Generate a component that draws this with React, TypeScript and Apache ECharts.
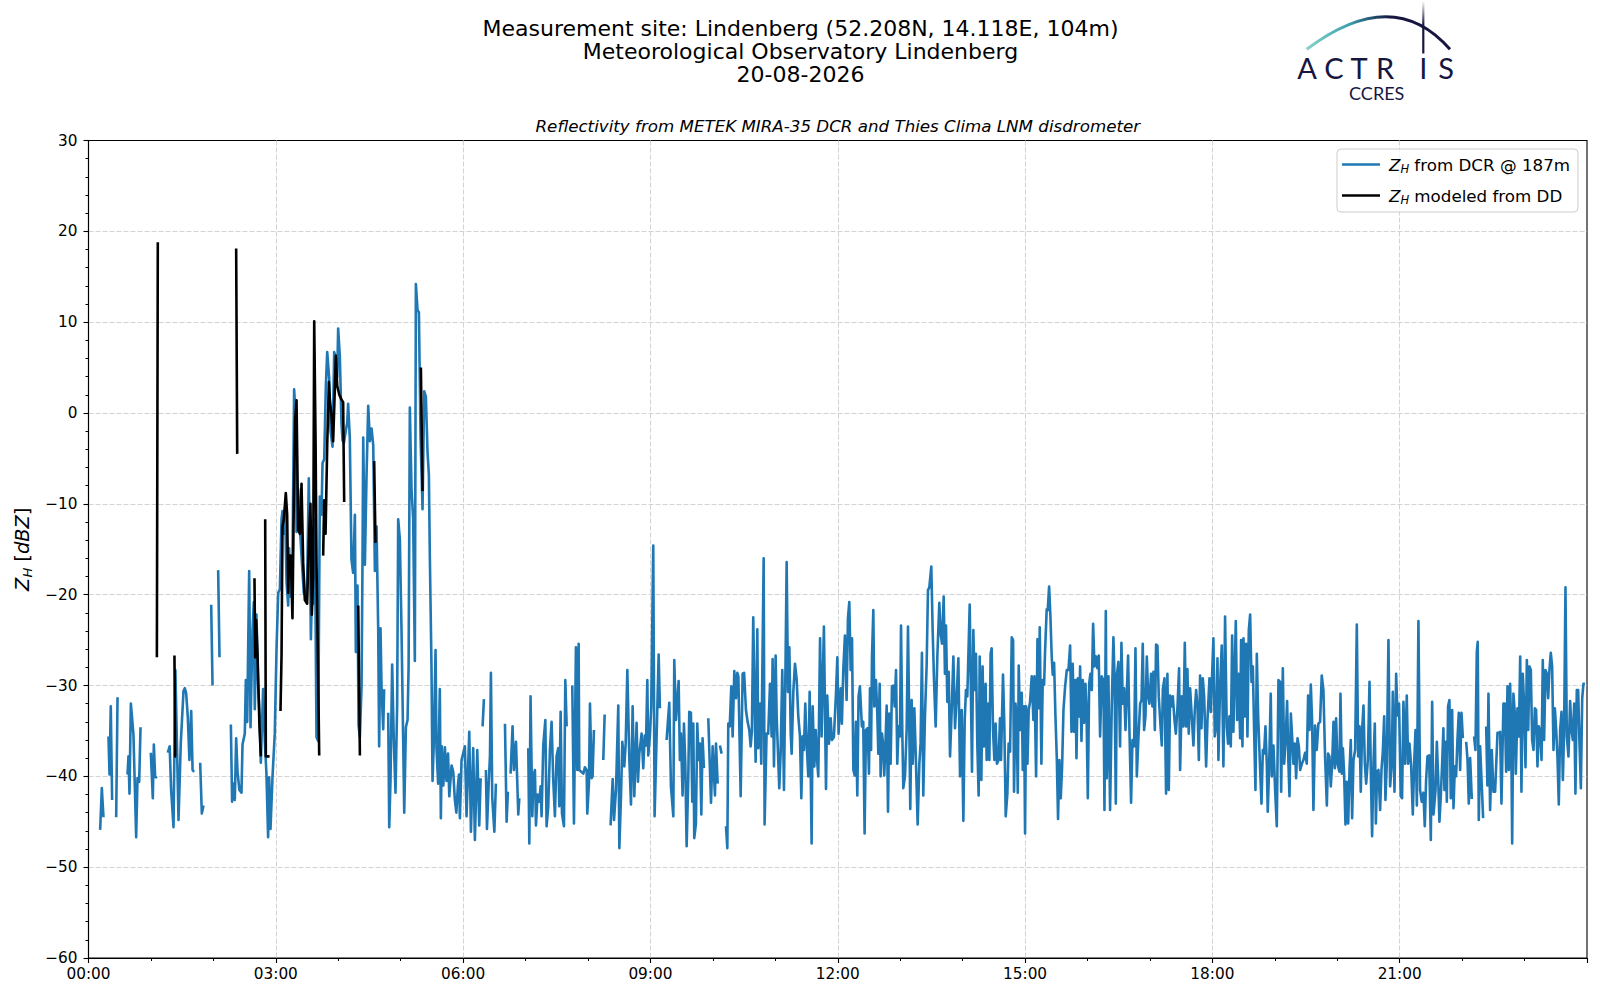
import React, { useEffect, useRef } from "react";
import * as echarts from "echarts";

// ---------- texts ----------
const titleLines = [
  "Measurement site: Lindenberg (52.208N, 14.118E, 104m)",
  "Meteorological Observatory Lindenberg",
  "20-08-2026",
];
const subtitle = "Reflectivity from METEK MIRA-35 DCR and Thies Clima LNM disdrometer";
const seriesNames = ["Z_H from DCR @ 187m", "Z_H modeled from DD"];
const xTickLabels = ["00:00", "03:00", "06:00", "09:00", "12:00", "15:00", "18:00", "21:00"];
const logoLetters = ["A", "C", "T", "R", "I", "S"];

// ---------- data: [minutes since 00:00, dBZ] (null = gap) ----------
type P = [number, number | null];

const dcr0006: P[] = [
  [11.2,-45.9],[12.8,-41.3],[14.4,-44.5],[16,null],
  [19.2,-35.6],[20.2,-39.8],[21.4,-32.3],[22.7,-42.6],[24,null],
  [26.6,-44.5],[27.9,-31.3],[29,null],
  [37.5,-39.8],[38.4,-37.8],[39.4,-41.9],[40.7,-32],[43.2,-35.4],[45.8,-46.7],[47.1,-40.2],[48.7,-40.6],[50,-34.6],[51,null],
  [59.9,-37.4],[60.8,-39.8],[61.8,-42.4],[62.8,-36.5],[64,-40],[65.7,-40.2],[67,null],
  [76.2,-37.4],[78,-36.7],[79.4,-41.5],[81.7,-45.6],[83.5,-28.3],[86.5,-44.8],[88.7,-36.3],[91.3,-30.6],[92.5,-30.3],[93.8,-30.8],[95.4,-33.4],[97,-38.2],[98.7,-32.8],[100,-39.3],[101.5,-39.5],[102.5,null],
  [107.3,-38.5],[108.9,-44.1],[110.5,-43.2],[111.5,null],
  [117.9,-21.1],[119.2,-30],[120,null],
  [124.6,-17.3],[125.9,-26.9],[127,null],
  [136.8,-34.3],[138,-42.8],[139.3,-40.8],[140.6,-42.6],[141.9,-35.8],[143.2,-39.5],[145,-41.5],[147,-41.8],[148,-36.5],[150.2,-35.3],[151.2,-29.4],[152.5,-34],[154.4,-17.4],[155.7,-34.6],[157.6,-23.9],[158.9,-20.8],[159.8,-32.6],[161.4,-22.2],[163,-30],[164.6,-33.6],[165.6,-38.5],[167.8,-30.4],[169.4,-36.1],[171,-39.7],[172.6,-46.7],[173.6,-40.1],[174.9,-45.8],[176.8,-40.1],[179,-35.3],[180.7,-25.9],[182.3,-19.8],[183.9,-19.4],[185.5,-11.7],[186.4,-10.8],[187.4,-13.3],[189,-10.8],[190.3,-18.6],[191.9,-21.2],[192.8,-14.9],[194.1,-20.2],[196,-16.5],[197.6,2.6],[199.2,-0.7],[199.9,-13.1],[201.5,-8.4],[203.1,-12.5],[205.3,-16.9],[206.9,-19.8],[208.9,-20.2],[210.1,-18.6],[211.7,-7.2],[212.7,-14.5],[213.7,-24.9],[214.9,-18.6],[215.9,-21],[217.5,-11.7],[219.1,-35.7],[220.7,-36.1],[222.3,-9.2],[223.9,-11.2],[224.9,-5.5],[226.5,-5.1],[228.1,3],[229.4,6.7],[231.3,3.8],[232.6,-2],[234.5,-3.7],[236.1,6.7],[237.7,6.1],[239,4],[239.9,9.3],[241.5,6.3],[243.1,-1.1],[244.1,-3],[245.4,-3.3],[247.3,-1.9],[248.6,-1.1],[249.5,1],[251.1,-2.7],[252.7,-16.1],[254.3,-17.6],[256,-11.2],[256.9,-26.3],[258.5,-19],[259.5,-34.4],[260.8,-35.7],[262.4,-30],[263.3,-16.5],[264,-2.7],[265.6,-16.7],[267.2,-6.8],[268.8,0.8],[270.4,-3.1],[272,-1.7],[273.6,-3.5],[275.2,-17.4],[276.8,-12.5],[278.4,-23.9],[279.3,-36.7],[280.6,-23.7],[281.6,-30.2],[283.2,-34.8],[284.1,-30.4],[285.5,null],
  [288,-33],[289,-45.6],[290.2,-40.5],[291.8,-27.7],[293.4,-36.1],[295,-41.8],[296.6,-32.2],[297.6,-11.7],[299.2,-13.9],[300.8,-23.9],[302.4,-36.1],[303.4,-44],[305,-34.6],[306.6,-33.8],[307.6,-28],[308.8,0.6],[310.4,-8.4],[312,-11.7],[313.6,-27.3],[314.6,14.2],[316.2,11.3],[317.5,11.1],[319.1,-2.7],[321,-10.6],[322.6,2.4],[324.2,1.8],[325.8,-4.3],[327.1,-6.8],[328,-15.7],[329.6,-27.9],[330.6,-40.5],[331.9,-36],[333.5,-26.1],[334.4,-36.9],[336,-40.8],[337.6,-30.4],[338.6,-44.6],[339.5,-36.7],[341,-41],[342.5,-36.8],[344,-40.5],[345.5,-37.5],[346.7,-42.2],[348.9,-38.8],[350.5,-39.5],[352,-42.5],[353.5,-44],[355,-41],[356,-39.8],[356.9,-44.6],[358.5,-38.2],
];

const dcr0612: P[] = [
  [361.7,-36.7],[363.3,-44.4],[365.9,-35.1],[367.5,-46.1],[369.7,-36.9],[371.3,-47],[373.6,-37.1],[375.5,-45.4],[376.8,-40.2],[377.5,null],
  [378.7,-34.5],[380,-31.5],[380.8,null],
  [381.9,-39.3],[382.9,-45.8],[384.5,-41],[385.8,-37.7],[386.7,-28.6],[388,-42.4],[390,-46.1],[391.5,-40.8],[392.5,null],
  [400.2,-34.2],[401.8,-45],[403,-41.7],[404,null],
  [405.6,-39.7],[407.5,-34.5],[408.8,-39.3],[410.8,-36.2],[413,-44.2],[414,-42.4],[415,null],
  [422.6,-36.9],[423.6,-47.4],[424.8,-31.2],[426.5,-44.4],[427.5,-40],[429,-39.3],[430,-45.4],[431.6,-42],[433.2,-42.8],[434.5,-41.1],[435.4,-44.4],[437,-36.6],[439,-33.8],[440.2,-45.5],[441.8,-43.3],[443.4,-37.1],[445,-34],[446.6,-40.4],[448.2,-44.4],[449.8,-37.8],[451.4,-36.9],[452.4,-43.3],[453.7,-32.9],[455,-44.1],[456.9,-45.5],[458.2,-29.4],[459.5,-34.5],[460.5,null],
  [464.9,-30],[466.5,-45.2],[468.4,-25.8],[469.7,-39.3],[471,-25.4],[471.6,-39.3],[475.5,-39.7],[477,-39],[478.7,-39.3],[479.3,-44.1],[480.9,-40.8],[481.9,-32],[483.5,-40.2],[484.4,-40],[485.7,-34.9],[486.5,null],
  [494.7,-38.2],[496,-33.2],[497,null],
  [501.7,-45.4],[503.7,-40.3],[505,-44.8],[506.9,-41.5],[509.1,-32.2],[510.1,-47.9],[511.7,-42.2],[513,-36.2],[514.9,-38.9],[516.2,-36.4],[517.8,-28.3],[519.7,-38],[521.3,-43.1],[522.9,-32.3],[524.5,-42.2],[526.7,-34.1],[528,-40.6],[529.3,-37.5],[531.5,-35.3],[533.1,-39.1],[534.5,-35.5],[535.7,-36.6],[537,-29.4],[537.9,-37.7],[539.5,-35.5],[540.8,-32.3],[542.7,-14.6],[544,-44.4],[545.3,-38.6],[546.5,-33],[547.9,-26.6],[549.1,-32.5],[550,null],
  [555.5,-36],[558.1,-31.9],[559.7,-41.1],[562,-44.4],[562.9,-27.2],[564.5,-33.8],[567.1,-29.5],[568.3,-38.2],[569.3,-35.3],[570.9,-42.1],[572.2,-34.2],[573.5,-38.6],[574.8,-47.7],[576.4,-40],[577.3,-32.9],[578.9,-33],[580.2,-42.8],[581.2,-34.2],[582.1,-46.8],[583.7,-45.2],[585,-34.2],[586.3,-38.2],[587.6,-36.4],[588.9,-44.2],[590.1,-35.8],[591.4,-39.1],[592.5,null],
  [595.6,-33.6],[598.2,-42.9],[599.8,-36.7],[602,-42.1],[603,-36.4],[604.6,-40.8],[605.5,null],
  [606.8,-36.6],[608.4,-37.5],[609.5,null],
  [612.6,-45.5],[613.9,-47.9],[614.8,-34.2],[616.2,-34.5],[617.7,-30.1],[619,-35.6],[620.6,-28.4],[622.2,-31.4],[623.5,-28.6],[624.5,-29],[626.7,-42.2],[628.6,-28.7],[630,-28.6],[631.8,-32.7],[633.4,-34],[635,-34.9],[636.3,-36.7],[637.5,-35],[638.8,-22.5],[640.1,-32],[641.1,-38.4],[642.7,-23.8],[643.6,-36.9],[645.3,-32],[646.5,-38.6],[648.8,-16],[649.7,-45.3],[651.6,-35.3],[653.2,-35.3],[654.9,-29.8],[656.5,-35.6],[657.4,-27.1],[658.7,-38.9],[660.3,-26.7],[661.3,-33.4],[663.8,-41.3],[665.1,-37.5],[666.7,-28.3],[668.3,-41.5],[669.9,-26.8],[670.9,-16.4],[672.2,-30.7],[673.5,-25.8],[674.8,-35.3],[675.7,-37.5],[677.3,-30.7],[678.9,-27.6],[680.5,-29.3],[682.1,-33.4],[683.7,-35.6],[685,-42.4],[686.3,-35.6],[687.5,-37.1],[688.8,-32],[690.1,-36.4],[691.7,-40],[693,-30.7],[694.9,-47.4],[695.9,-32.3],[697.5,-38.9],[698.8,-34.9],[700.4,-38.6],[701.3,-40],[703,-24.8],[704.5,-35.6],[706.7,-23.5],[708.7,-41.4],[709.9,-31.1],[711.5,-36.4],[713.2,-33.6],[714.4,-36],[716.3,-35.7],[718.3,-30.9],[719.6,-26.9],
];

const dcr1218: P[] = [
  [720.8,-35.3],[722.8,-30.3],[724,-34.2],[725.3,-28.3],[726.9,-24.5],[728.5,-31.6],[729.8,-22.6],[731.1,-20.8],[732.4,-28.3],[733.7,-24.8],[735,-39.3],[736.3,-39.9],[737.5,-34],[738.8,-42.1],[740,-31.2],[741.3,-30.1],[743.2,-34.5],[744.5,-34],[745.8,-46.3],[747.1,-34.9],[748.7,-34.7],[750,-39.7],[751,-30.3],[752,-37.1],[752.9,-26.8],[754.2,-21.7],[755.1,-32.3],[756.7,-29.4],[758,-33.1],[759,-37.5],[760.3,-29.8],[761.2,-40],[762.5,-35.3],[763.8,-36.7],[764.7,-39.9],[766,-35.8],[767,-32.2],[768.3,-43.9],[769.5,-33.1],[770.8,-38.6],[772.1,-30.1],[773.4,-30],[774.7,-32.3],[776,-28.3],[777.2,-38.6],[778.5,-34.5],[779.8,-35.6],[780.8,-23.4],[782,-34.9],[783,-41.3],[784.6,-40],[786.2,-34.9],[787.5,-23.5],[788.8,-34.9],[789.7,-43.6],[791,-31.6],[792,-38.6],[793.6,-32.5],[795.2,-38.6],[796.8,-45.3],[798.4,-38.6],[799.6,-36.4],[800.9,-26.4],[802.2,-42.1],[803.8,-33.4],[805.4,-27.9],[806.7,-19.5],[808,-19.2],[809.9,-16.9],[811.2,-23.9],[812.5,-29.4],[814.1,-34.5],[815.7,-26.8],[817.6,-20.9],[818.9,-24.3],[820.2,-25.4],[821.8,-20.2],[823,-28.7],[824,-23.4],[825.3,-31.8],[826.6,-28.5],[827.9,-37.8],[829.5,-32.7],[831.1,-26.8],[832.7,-34.7],[834.3,-31.2],[835.9,-27],[837.5,-40],[839.1,-32.7],[840.7,-44.9],[842,-33.8],[843.2,-30.5],[844.5,-31.2],[846.8,-21.1],[848,-31.2],[849,-39.5],[850.3,-23.9],[851.6,-30.5],[852.8,-26.5],[854.1,-36.4],[855.4,-42.1],[856.4,-26.8],[858,-40.4],[859.2,-27.9],[860.5,-36.7],[862.1,-29.8],[863.1,-38.2],[864.4,-32],[865.7,-38.2],[866.9,-26.5],[867.9,-25.9],[869.2,-34.9],[870.5,-38.2],[871.7,-34.2],[873,-38.6],[874.6,-38.2],[875.9,-33.6],[876.9,-38.2],[878.8,-28.8],[880.1,-34.5],[881.4,-44.4],[883,-41.9],[884.2,-36.4],[885.6,-37.3],[887.2,-24.7],[888.5,-25],[889.4,-41.7],[890.8,-32],[892,-34.2],[893,-41.8],[893.9,-27.8],[895.2,-34.9],[896.8,-30.8],[897.8,-39.3],[899,-32.3],[900,-46.3],[901,-32.3],[902.3,-38.6],[903.5,-32.7],[904.8,-31.8],[906.4,-29],[908,-33.8],[909,-29],[910.6,-40],[911.9,-24.9],[913.2,-32.5],[914.1,-23.6],[915.7,-38.6],[917,-29.4],[918.3,-29.9],[919.2,-26.3],[920.8,-21.6],[921.8,-21.7],[923.1,-19.1],[924.4,-22.5],[925.6,-26.8],[926.6,-28.8],[927.9,-27.5],[929.2,-33.4],[930.5,-38],[931.7,-44.7],[933,-38.2],[934.3,-42.4],[935.6,-38.9],[936.9,-32.7],[938.5,-30.1],[940.1,-28.3],[941.7,-28.3],[943.3,-25.6],[944.6,-35.1],[945.8,-27.6],[947.1,-35.1],[948.4,-29.4],[949.4,-38],[950.7,-29.2],[952,-33.4],[952.9,-27.9],[954.2,-36.1],[955.5,-29.4],[956.7,-34.1],[958,-29.8],[959,-32.3],[960.3,-42.4],[961.6,-29.8],[962.8,-28.7],[964.1,-30.5],[965.4,-23.2],[966.7,-27.9],[968.2,-26.8],[969.5,-28.1],[970.8,-26.7],[972.1,-35.6],[973.7,-29],[975.3,-29.4],[976.3,-43.7],[977.6,-21.8],[978.5,-40.2],[980.1,-29],[981.7,-43.7],[983.3,-32.3],[984.9,-24.7],[985.9,-28.7],[987.2,-43],[988.2,-28.9],[989.7,-27.4],[991.3,-36.7],[992.6,-25.3],[993.9,-32],[995.2,-30.3],[996.5,-34.9],[997.7,-31.2],[999,-26.7],[1000.3,-34.9],[1001.9,-42.9],[1003.2,-36],[1004.8,-36.7],[1006.1,-25.9],[1007.4,-40],[1009,-35.6],[1010.6,-32],[1011.9,-31.6],[1013.1,-25.4],[1014.4,-34.9],[1015.7,-33.4],[1017,-26.8],[1018.3,-31.2],[1019.5,-32],[1021.1,-28.7],[1022.4,-32.3],[1023.4,-28.5],[1024.7,-34.9],[1025.9,-25.5],[1027.2,-25.6],[1028.5,-31.2],[1029.8,-33.8],[1031.4,-36.6],[1032.4,-30.4],[1034,-29.2],[1035.5,-41.9],[1036.8,-28.7],[1038.1,-41.5],[1039.4,-31.1],[1040.7,-32.3],[1042,-31.2],[1043.6,-33.8],[1044.9,-35.3],[1046.5,-32.3],[1048,-28.1],[1049,-39.3],[1050.6,-31.2],[1052.2,-34.5],[1053.5,-25.3],[1054.8,-34.5],[1056,-28.2],[1057.3,-35.3],[1058.6,-30.3],[1060.2,-33.4],[1061.8,-36.6],[1063.1,-32.7],[1064.4,-30.5],[1065.7,-32.3],[1067,-38.2],[1068.2,-28.9],[1069.5,-34.7],[1070.8,-29.2],[1072.1,-31.2],[1074,-38.9],
];

const dcr1824: P[] = [
  [1075.3,-33.8],[1077.2,-29.2],[1078.5,-32.9],[1079.7,-29],[1081,-24.8],[1082.3,-35.6],[1083.6,-34.5],[1084.9,-27],[1085.8,-38.2],[1087.4,-30.1],[1089,-25.6],[1090.6,-38.9],[1092.2,-22.4],[1093.8,-34.5],[1095.1,-36.4],[1096.4,-33.4],[1097.7,-36.7],[1099,-24.5],[1100.2,-35.1],[1101.5,-28.3],[1102.5,-22.9],[1103.8,-33.8],[1105.1,-28.7],[1106.7,-35.8],[1107.6,-25],[1108.9,-36.7],[1109.9,-24.8],[1111.2,-33.4],[1112.4,-25.4],[1113.7,-35.6],[1115,-23.9],[1116.3,-22.2],[1117.6,-29.6],[1118.9,-27.9],[1120.1,-34.9],[1121.4,-41.5],[1122.7,-26.5],[1124,-33.4],[1125.9,-39.3],[1127.2,-43],[1128.5,-37.1],[1129.7,-37.5],[1131,-34.5],[1132.3,-38.6],[1133.2,-43.9],[1134.5,-39.1],[1136.1,-30.9],[1137.1,-40],[1138.7,-36.6],[1140.3,-41.5],[1141.9,-45.5],[1143.5,-29.4],[1145.1,-29.6],[1146.1,-41.7],[1147.7,-28.1],[1149,-38.6],[1150.5,-35.8],[1151.8,-31.7],[1153.1,-38.6],[1154.1,-42.2],[1155.4,-33.1],[1156.6,-35.6],[1157.9,-38.6],[1159.2,-36.4],[1160.5,-40.2],[1161.8,-35.8],[1163.1,-36.7],[1164.4,-39.3],[1166,-38.6],[1167.5,-38.2],[1169.1,-37.4],[1170.7,-38.6],[1172,-31.1],[1173.3,-34.9],[1174.6,-29.9],[1175.9,-34.2],[1177.1,-43.7],[1178.7,-34.4],[1180.3,-37.1],[1181.9,-34.2],[1183.5,-34],[1185.1,-28.9],[1186.7,-30.5],[1188.3,-37.8],[1190,-43.2],[1191.2,-37.5],[1192.5,-37.8],[1193.8,-41.1],[1195.1,-38.6],[1196.4,-34],[1197.7,-39.1],[1198.9,-33.6],[1200.2,-38.6],[1202.1,-39.5],[1203.1,-30.9],[1204.4,-39.7],[1205.4,-36.9],[1206.6,-39.7],[1207.9,-45.3],[1209.2,-40.6],[1210.5,-45.2],[1211.8,-39.3],[1213,-36],[1214.3,-44.6],[1215.6,-38.2],[1217.2,-37.1],[1218.8,-23.3],[1220.1,-37.8],[1221.4,-34.5],[1222.6,-41.7],[1223.9,-34.9],[1225.2,-32.2],[1226.5,-38.6],[1227.8,-40.8],[1229.4,-38.2],[1231,-29.6],[1232.2,-39.1],[1233.5,-46.6],[1234.8,-38.6],[1236.1,-34.2],[1237.1,-45.2],[1238.3,-39.5],[1239.6,-39.3],[1241.2,-43.7],[1242.5,-39.3],[1243.8,-37.3],[1245.1,-33.4],[1246.3,-42.6],[1247.6,-38.6],[1249.2,-25],[1250.8,-41.1],[1252.4,-38.6],[1253.4,-30.7],[1255,-41.7],[1256.6,-28.7],[1257.9,-33.3],[1259.4,-32],[1261,-42.2],[1262.3,-42.4],[1263.6,-31.8],[1265.2,-38.6],[1266.8,-31.1],[1268.1,-38.6],[1269.4,-36.4],[1271,-38.8],[1272.6,-44.2],[1273.9,-38.6],[1275.2,-34.9],[1276.5,-43.2],[1278,-22.9],[1279.6,-41.5],[1281.2,-42.8],[1282.8,-41.8],[1284.1,-45.5],[1285.4,-40.4],[1286.7,-37.8],[1288.3,-37.7],[1289.9,-47],[1291.2,-31.8],[1292.5,-44.2],[1294.4,-41.6],[1295.7,-36.2],[1297,-40.2],[1298.2,-45],[1299.5,-42.2],[1300.8,-38.6],[1302,-34.7],[1303,-41.5],[1304.3,-36.2],[1305.3,-42.8],[1306.5,-32.3],[1307.8,-31.6],[1309.1,-42.4],[1310.4,-32.7],[1311.7,-43.5],[1313,-38.9],[1314.2,-40],[1315.5,-36],[1316.8,-33],[1318.1,-39.3],[1319.4,-33],[1320.7,-35.8],[1321.7,null],
  [1323.9,-36.2],[1325.2,-38.2],[1326.4,-43],[1327.7,-38],[1329.3,-42.5],[1330.2,null],
  [1331.5,-35.6],[1332.8,-37.1],[1334.1,-26.3],[1335,-25.2],[1336,-44.8],[1337.3,-36.7],[1338.9,-41.1],[1340.2,-44.6],[1341,null],
  [1343.1,-34.5],[1344.3,-41],[1345.3,-30.9],[1346.9,-43.7],[1348.5,-37.1],[1350.1,-41.7],[1351.7,-41.7],[1354,-35.2],[1355.2,-35.2],[1356.5,-35.1],[1357.8,-43],[1359.7,-32],[1361,-32],[1362.3,-39.5],[1363.6,-30.1],[1364.9,-39.3],[1366.1,-29.8],[1367.1,-34.5],[1368.1,-47.4],[1369.3,-30.9],[1370.6,-33],[1371.6,-39.7],[1373.2,-32.5],[1374.5,-35.6],[1375.8,-26.8],[1377,-41.7],[1378.3,-28.7],[1379.6,-32.3],[1380.9,-39],[1382.2,-27.2],[1383.5,-34.9],[1384.7,-27.9],[1386,-28.3],[1387.3,-36],[1388.6,-37.1],[1389.9,-32.5],[1391.1,-32.7],[1392.4,-38.9],[1393.7,-34.5],[1395,-35.1],[1396.3,-38.2],[1397.5,-27.2],[1398.8,-36],[1400.1,-28.3],[1401.4,-28.7],[1402.7,-31.4],[1403.9,-28.3],[1405.2,-26.4],[1406.5,-27.9],[1407.8,-37.1],[1409.1,-32.5],[1410.4,-34.9],[1411.6,-37.8],[1412.9,-43.1],[1414.2,-34.9],[1415.5,-32.9],[1416.8,-40.4],[1418,-34.9],[1419.3,-19.2],[1420.6,-35.6],[1422.2,-37.8],[1423.8,-31.7],[1425.1,-34.9],[1426.4,-36],[1427.7,-32],[1428.9,-41.9],[1430.2,-30.5],[1431.5,-30.5],[1432.8,-36.4],[1434.1,-41.3],[1435.4,-31.4],[1436.6,-29.8],[1438,-29.8],
];

const ddModel: P[] = [
  [65.7,-26.9],[66.6,18.8],[67.5,null],
  [82.6,-26.7],[83.3,-37.8],[84.2,-37.8],[85,null],
  [141.9,18.1],[142.9,-4.5],[143.5,null],
  [159.5,-18.2],[160.2,-26.9],[161.1,-22.8],[162.4,-26.5],[164.3,-34.5],[165.6,-37.8],[166.5,null],
  [169.8,-11.7],[170.4,-37.8],[174,-37.8],[174.5,null],
  [184.5,-32.8],[185.5,-26.7],[186.4,-12.5],[187.7,-11.7],[189.6,-8.8],[190.9,-11.2],[191.9,-19.8],[192.8,-15.7],[194.4,-15.7],[196,-22.6],[197.3,-9.6],[198.6,-0.7],[199.9,1.4],[201.5,-12.9],[203.1,-13.3],[204.7,-7.8],[206.3,-16.5],[207.9,-20.6],[210.1,-21],[212.1,-12.9],[213.3,-10],[214.6,-22.2],[215.9,-18],[216.9,10.1],[218.2,-3],[219.1,-16.5],[220.7,-28.7],[221.7,-37.7],[222.5,null],
  [225.5,-15.7],[226.5,-9.6],[227.8,-13.3],[229.4,-3.5],[231,3.4],[232,1.4],[233.5,-0.3],[235.1,-3.1],[236.7,2.6],[237.7,6.3],[239,3],[241,2],[243,1.5],[244.7,1.2],[245.7,-9.8],[246.5,null],
  [259.2,-21.2],[260.8,-37.7],[261.5,null],
  [274.5,-5.3],[275.8,-14.3],[276.5,null],
  [319.4,5],[321,-8.6],
];

const FONT = "DejaVu Sans";
const NAVY = "#16163f";

function toSeriesData(arr: P[]) {
  return arr.map(([t, v]) => [t, v === null ? "-" : v]);
}

const fmtY = (v: number) => (v < 0 ? "\u2212" + Math.abs(v) : String(v));

export default function App() {
  const ref = useRef<HTMLDivElement>(null);
  useEffect(() => {
    if (!ref.current) return;
    const chart = echarts.init(ref.current, undefined, { renderer: "svg" });

    const LF = 16.7;
    const legendRich = {
      z: { fontStyle: "italic", fontSize: LF, lineHeight: 21, fontFamily: FONT, color: "#000" },
      s: { fontStyle: "italic", fontSize: 11.5, lineHeight: 12, verticalAlign: "bottom", fontFamily: FONT, color: "#000" },
      t: { fontSize: LF, lineHeight: 21, fontFamily: FONT, color: "#000" },
    };
    const YF = 19.4;

    const arcGrad = new echarts.graphic.LinearGradient(0, 0, 1, 0, [
      { offset: 0, color: "#86d3c9" },
      { offset: 0.3, color: "#3d9fae" },
      { offset: 0.58, color: NAVY },
      { offset: 1, color: NAVY },
    ]);
    const vGrad = new echarts.graphic.LinearGradient(0, 0, 0, 1, [
      { offset: 0, color: "rgba(22,22,63,0)" },
      { offset: 0.45, color: NAVY },
      { offset: 1, color: NAVY },
    ]);
    const letterX = [1307, 1334, 1359, 1385, 1423.3, 1446];

    const option: any = {
      animation: false,
      backgroundColor: "#ffffff",
      textStyle: { fontFamily: FONT },
      grid: {
        left: 88.5, top: 140.5, width: 1498.5, height: 817.5,
        show: true, borderColor: "#000", borderWidth: 1.1, backgroundColor: "transparent",
      },
      xAxis: {
        type: "value", min: 0, max: 1440, interval: 180,
        axisLine: { show: true, onZero: false, lineStyle: { color: "#000", width: 1.1 } },
        axisTick: { show: true, length: 5, lineStyle: { color: "#000", width: 1.1 } },
        minorTick: { show: true, splitNumber: 3, length: 3, lineStyle: { color: "#000", width: 1 } },
        axisLabel: {
          color: "#000", fontSize: 15.3, fontFamily: FONT, margin: 8,
          formatter: (v: number) => xTickLabels[Math.round(v / 180)] ?? "",
        },
        splitLine: { show: true, showMinLine: false, showMaxLine: false, lineStyle: { color: "#d3d3d3", width: 1, type: [5, 2] } },
      },
      yAxis: {
        type: "value", min: -60, max: 30, interval: 10,
        axisLine: { show: true, onZero: false, lineStyle: { color: "#000", width: 1.1 } },
        axisTick: { show: true, length: 5, lineStyle: { color: "#000", width: 1.1 } },
        minorTick: { show: true, splitNumber: 5, length: 3, lineStyle: { color: "#000", width: 1 } },
        axisLabel: { color: "#000", fontSize: 15.3, fontFamily: FONT, margin: 11, formatter: fmtY },
        splitLine: { show: true, showMinLine: false, showMaxLine: false, lineStyle: { color: "#d3d3d3", width: 1, type: [5, 2] } },
        name: "{z|Z}{s|H}{t| [}{i|dBZ}{t|]}",
        nameLocation: "middle",
        nameRotate: 90,
        nameGap: 53,
        nameTextStyle: {
          color: "#000",
          rich: {
            z: { fontStyle: "italic", fontSize: YF, lineHeight: 24, fontFamily: FONT, color: "#000" },
            s: { fontStyle: "italic", fontSize: 13, lineHeight: 13, verticalAlign: "bottom", fontFamily: FONT, color: "#000" },
            t: { fontSize: YF, lineHeight: 24, fontFamily: FONT, color: "#000" },
            i: { fontStyle: "italic", fontSize: YF, lineHeight: 24, fontFamily: FONT, color: "#000" },
          },
        },
      },
      legend: {
        orient: "vertical", right: 22, top: 149,
        backgroundColor: "rgba(255,255,255,0.8)", borderColor: "#cccccc", borderWidth: 1, borderRadius: 4,
        padding: [5, 8, 6, 5], itemGap: 10, itemWidth: 38, itemHeight: 2.6, icon: "rect",
        selectedMode: false,
        data: seriesNames,
        textStyle: { fontFamily: FONT, fontSize: LF, lineHeight: 21, color: "#000", padding: [0, 0, 0, 4], rich: legendRich },
        formatter: (name: string) => "{z|Z}{s|H}{t|" + name.slice(3) + "}",
      },
      series: [
        {
          name: seriesNames[0], type: "line", data: toSeriesData([...dcr0006, ...dcr0612, ...dcr1218, ...dcr1824]),
          showSymbol: false, symbol: "none", connectNulls: false, color: "#1f77b4",
          itemStyle: { color: "#1f77b4" },
          lineStyle: { color: "#1f77b4", width: 2.6, join: "round" }, z: 2,
        },
        {
          name: seriesNames[1], type: "line", data: toSeriesData(ddModel),
          showSymbol: false, symbol: "none", connectNulls: false, color: "#000000",
          itemStyle: { color: "#000000" },
          lineStyle: { color: "#000000", width: 2.6, join: "round" }, z: 3,
        },
      ],
      graphic: [
        ...titleLines.map((txt, i) => ({
          type: "text", x: 800.5, y: 28.6 + i * 23.1,
          style: { text: txt, font: `22px "${FONT}"`, fill: "#000", align: "center", verticalAlign: "middle", textAlign: "center", textVerticalAlign: "middle" },
        })),
        {
          type: "text", x: 837.8, y: 126,
          style: { text: subtitle, font: `italic 16.7px "${FONT}"`, fill: "#000", align: "center", verticalAlign: "middle", textAlign: "center", textVerticalAlign: "middle" },
        },
        {
          type: "bezierCurve",
          shape: { x1: 1306.7, y1: 49.3, x2: 1450, y2: 49.3, cpx1: 1393, cpy1: -15.9 },
          style: { stroke: arcGrad, lineWidth: 3, fill: "none" },
        },
        {
          type: "rect",
          shape: { x: 1422.2, y: 1, width: 2.2, height: 52.5 },
          style: { fill: vGrad },
        },
        ...logoLetters.map((ch, i) => ({
          type: "text", x: letterX[i], y: 67.5,
          style: { text: ch, font: "29px Lato", fill: NAVY, align: "center", verticalAlign: "middle", textAlign: "center", textVerticalAlign: "middle" },
        })),
        {
          type: "text", x: 1376.7, y: 92.7,
          style: { text: "CCRES", font: "18px Lato", fill: NAVY, align: "center", verticalAlign: "middle", textAlign: "center", textVerticalAlign: "middle" },
        },
      ],
    };
    chart.setOption(option);
    return () => chart.dispose();
  }, []);
  return <div ref={ref} style={{ position: "absolute", left: 0, top: 0, width: 1600, height: 1000 }} />;
}
